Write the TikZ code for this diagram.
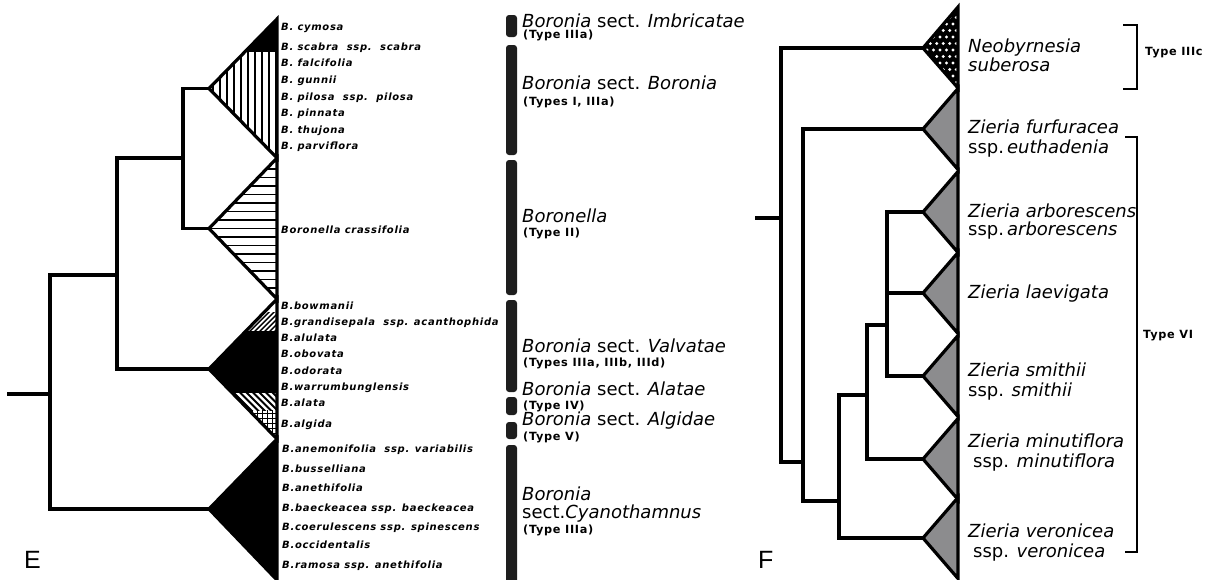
\documentclass[tikz,border=0pt]{standalone}
\usepackage{fontspec}
\setmainfont{DejaVu Sans}
\newfontfamily\taxfont[LetterSpace=7]{DejaVu Sans}
\newfontfamily\typefont[LetterSpace=6]{DejaVu Sans}
\newfontfamily\panelfont{Liberation Sans}
\definecolor{barc}{RGB}{30,30,30}
\definecolor{zgray}{RGB}{140,140,142}
\tikzset{
  branch/.style={line width=3.3pt, line join=miter},
  tri/.style={line width=3.2pt, line join=miter},
  taxon/.style={anchor=base west, inner sep=0pt, font=\taxfont\fontsize{10}{11}\selectfont\bfseries\itshape},
  sectlab/.style={anchor=base west, inner sep=0pt, font=\fontsize{18}{20}\selectfont},
  typelab/.style={anchor=base west, inner sep=0pt, font=\typefont\fontsize{11.3}{13}\selectfont\bfseries},
  zlab/.style={anchor=base west, inner sep=0pt, font=\fontsize{18}{20}\selectfont},
  secbar/.style={fill=barc, rounded corners=3pt},
  bracket/.style={line width=2.2pt, line join=miter},
  panel/.style={anchor=base west, inner sep=0pt, font=\panelfont\fontsize{25}{28}\selectfont},
  hatch/.style={line width=1.6pt},
}
\begin{document}
\begin{tikzpicture}[x=1pt,y=-1pt]
\useasboundingbox (0,0) rectangle (1209,579);

% ================= Panel E =================
\coordinate (Estub) at (7,394);
\coordinate (E0) at (50,394);
\coordinate (E1) at (117,275);
\coordinate (E2) at (183,158);
\coordinate (EBo) at (209,88.5);
\coordinate (EBl) at (209,228.5);
\coordinate (EVa) at (209,369);
\coordinate (ECy) at (209,509);

% Boronia triangle (black top + vertical hatch)
\begin{scope}
  \clip (EBo) -- (277,19) -- (277,158) -- cycle;
  \fill (200,10) rectangle (282,52);
  \foreach \x in {213,220,...,276} \draw[hatch] (\x,52) -- (\x,162);
\end{scope}
\draw[tri] (EBo) -- (277,19) -- (277,158) -- cycle;

% Boronella triangle (horizontal hatch)
\begin{scope}
  \clip (EBl) -- (277,158) -- (277,299) -- cycle;
  \foreach \k in {-8,...,8} \draw[hatch] (200,{228.5+8.5*\k}) -- (282,{228.5+8.5*\k});
\end{scope}
\draw[tri] (EBl) -- (277,158) -- (277,299) -- cycle;

% Valvatae / Alatae / Algidae triangle
\begin{scope}
  \clip (EVa) -- (277,299) -- (277,439) -- cycle;
  \begin{scope}
    \clip (200,312) rectangle (282,331);
    \foreach \x in {185,190,...,290} \draw[line width=1.4pt] (\x,336) -- (\x+30,306);
  \end{scope}
  \fill (200,331) rectangle (282,393);
  \begin{scope}
    \clip (200,393) rectangle (282,410);
    \foreach \x in {190,196.5,...,290} \draw[line width=2pt] (\x,388) -- (\x+26,414);
  \end{scope}
  \begin{scope}
    \clip (200,410) rectangle (282,442);
    \foreach \x in {232,237,...,277} \draw[line width=1pt] (\x,410) -- (\x,442);
    \foreach \y in {413,418,...,440} \draw[line width=1pt] (200,\y) -- (282,\y);
  \end{scope}
\end{scope}
\draw[tri] (EVa) -- (277,299) -- (277,439) -- cycle;

% Cyanothamnus triangle
\draw[tri, fill=black] (ECy) -- (277,439) -- (277,580) -- cycle;

% branches
\draw[branch] (Estub) -- (E0);
\draw[branch] (E0) |- (E1);
\draw[branch] (E0) |- (ECy);
\draw[branch] (E1) |- (E2);
\draw[branch] (E1) |- (EVa);
\draw[branch] (E2) |- (EBo);
\draw[branch] (E2) |- (EBl);

% taxon labels
\node[taxon] (t1) at (281,30) {B. cymosa};
\node[taxon] (t2) at (281,50) {B. scabra\ \ ssp.\ \ scabra};
\node[taxon] (t3) at (281,66) {B. falcifolia};
\node[taxon] (t4) at (281,83) {B. gunnii};
\node[taxon] (t5) at (281,100) {B. pilosa\ \ ssp.\ \ pilosa};
\node[taxon] (t6) at (281,116) {B. pinnata};
\node[taxon] (t7) at (281,133) {B. thujona};
\node[taxon] (t8) at (281,149) {B. parviflora};
\node[taxon] (t9) at (281,233) {Boronella crassifolia};
\node[taxon] (t10) at (281,309) {B.bowmanii};
\node[taxon] (t11) at (281,325) {B.grandisepala\ \ ssp. acanthophida};
\node[taxon] (t12) at (281,341) {B.alulata};
\node[taxon] (t13) at (281,357) {B.obovata};
\node[taxon] (t14) at (281,374) {B.odorata};
\node[taxon] (t15) at (281,390) {B.warrumbunglensis};
\node[taxon] (t16) at (281,406) {B.alata};
\node[taxon] (t17) at (281,427) {B.algida};
\node[taxon] (t18) at (282,452) {B.anemonifolia\ \ ssp. variabilis};
\node[taxon] (t19) at (282,472) {B.busselliana};
\node[taxon] (t20) at (282,491) {B.anethifolia};
\node[taxon] (t21) at (282,511) {B.baeckeacea ssp. baeckeacea};
\node[taxon] (t22) at (282,530) {B.coerulescens ssp. spinescens};
\node[taxon] (t23) at (282,548) {B.occidentalis};
\node[taxon] (t24) at (282,568) {B.ramosa ssp. anethifolia};

% section bars
\fill[secbar] (506,15) rectangle (517,37);
\fill[secbar] (506,45) rectangle (517,155);
\fill[secbar] (506,160) rectangle (517,295);
\fill[secbar] (506,300) rectangle (517,392);
\fill[secbar] (506,397) rectangle (517,415);
\fill[secbar] (506,422) rectangle (517,439);
\fill[secbar] (506,445) rectangle (517,590);

% section labels
\node[sectlab] (s1) at (522,27) {\textit{Boronia} sect. \textit{Imbricatae}};
\node[typelab] (y1) at (523,38) {(Type IIIa)};
\node[sectlab] (s2) at (522,89) {\textit{Boronia} sect. \textit{Boronia}};
\node[typelab] (y2) at (523,105) {(Types I, IIIa)};
\node[sectlab] (s3) at (522,222) {\textit{Boronella}};
\node[typelab] (y3) at (523,236) {(Type II)};
\node[sectlab] (s4) at (522,352) {\textit{Boronia} sect. \textit{Valvatae}};
\node[typelab] (y4) at (523,366) {(Types IIIa, IIIb, IIId)};
\node[sectlab] (s5) at (522,395) {\textit{Boronia} sect. \textit{Alatae}};
\node[typelab] (y5) at (523,409) {(Type IV)};
\node[sectlab] (s6) at (522,425) {\textit{Boronia} sect. \textit{Algidae}};
\node[typelab] (y6) at (523,440) {(Type V)};
\node[sectlab] (s7a) at (522,500) {\textit{Boronia}};
\node[sectlab] (s7b) at (522,518) {sect.\textit{Cyanothamnus}};
\node[typelab] (y7) at (523,533) {(Type IIIa)};

\node[panel] (labE) at (24,568) {E};

% ================= Panel F =================
\coordinate (Fstub) at (755,218);
\coordinate (F0) at (781,218);
\coordinate (F1) at (803,462);
\coordinate (F2) at (839,501);
\coordinate (F3) at (867,395);
\coordinate (F4) at (887,325);
\coordinate (FNe) at (923,48);
\coordinate (FFu) at (923,129);
\coordinate (FAr) at (923,212);
\coordinate (FLa) at (923,293);
\coordinate (FSm) at (923,376);
\coordinate (FMi) at (923,459);
\coordinate (FVe) at (923,538);

% Neobyrnesia triangle: black with white dots
\begin{scope}
  \clip (FNe) -- (958,7) -- (958,88) -- cycle;
  \fill (915,0) rectangle (965,95);
  \foreach \r in {0,...,12} \foreach \c in {0,...,6}
    \fill[white] ({927+6.5*\c+3.25*mod(\r,2)},{11+6.5*\r}) circle (1.6);
\end{scope}
\draw[tri] (FNe) -- (958,7) -- (958,88) -- cycle;

% gray triangles
\foreach \c in {129,212,293,376,459,538}
  \draw[tri, fill=zgray] (923,\c) -- (958,{\c-40.5}) -- (958,{\c+40.5}) -- cycle;

% branches
\draw[branch] (Fstub) -- (F0);
\draw[branch] (F0) |- (FNe);
\draw[branch] (F0) |- (F1);
\draw[branch] (F1) |- (FFu);
\draw[branch] (F1) |- (F2);
\draw[branch] (F2) |- (F3);
\draw[branch] (F2) |- (FVe);
\draw[branch] (F3) |- (F4);
\draw[branch] (F3) |- (FMi);
\draw[branch] (F4) |- (FAr);
\draw[branch] (F4) |- (FLa);
\draw[branch] (F4) |- (FSm);

% labels
\node[zlab] (z1a) at (968,52) {\textit{Neobyrnesia}};
\node[zlab] (z1b) at (968,71) {\textit{suberosa}};
\node[zlab] (z2a) at (968,133) {\textit{Zieria furfuracea}};
\node[zlab] (z2b) at (968,153) {ssp.\,\textit{euthadenia}};
\node[zlab] (z3a) at (968,217) {\textit{Zieria arborescens}};
\node[zlab] (z3b) at (968,235) {ssp.\,\textit{arborescens}};
\node[zlab] (z4a) at (968,298) {\textit{Zieria laevigata}};
\node[zlab] (z5a) at (968,376) {\textit{Zieria smithii}};
\node[zlab] (z5b) at (968,396) {ssp. \textit{smithii}};
\node[zlab] (z6a) at (968,447) {\textit{Zieria minutiflora}};
\node[zlab] (z6b) at (973,467) {ssp. \textit{minutiflora}};
\node[zlab] (z7a) at (968,537) {\textit{Zieria veronicea}};
\node[zlab] (z7b) at (973,557) {ssp. \textit{veronicea}};

% brackets
\coordinate (b1t) at (1123,25);
\coordinate (b1b) at (1123,89);
\draw[bracket] (b1t) -- ++(14,0) |- (b1b);
\node[typelab] (ty1) at (1145,55) {Type IIIc};
\coordinate (b2t) at (1125,137);
\coordinate (b2b) at (1125,552);
\draw[bracket] (b2t) -- ++(12,0) |- (b2b);
\node[typelab] (ty2) at (1143,338) {Type VI};

\node[panel] (labF) at (758,568) {F};
\end{tikzpicture}
\end{document}
